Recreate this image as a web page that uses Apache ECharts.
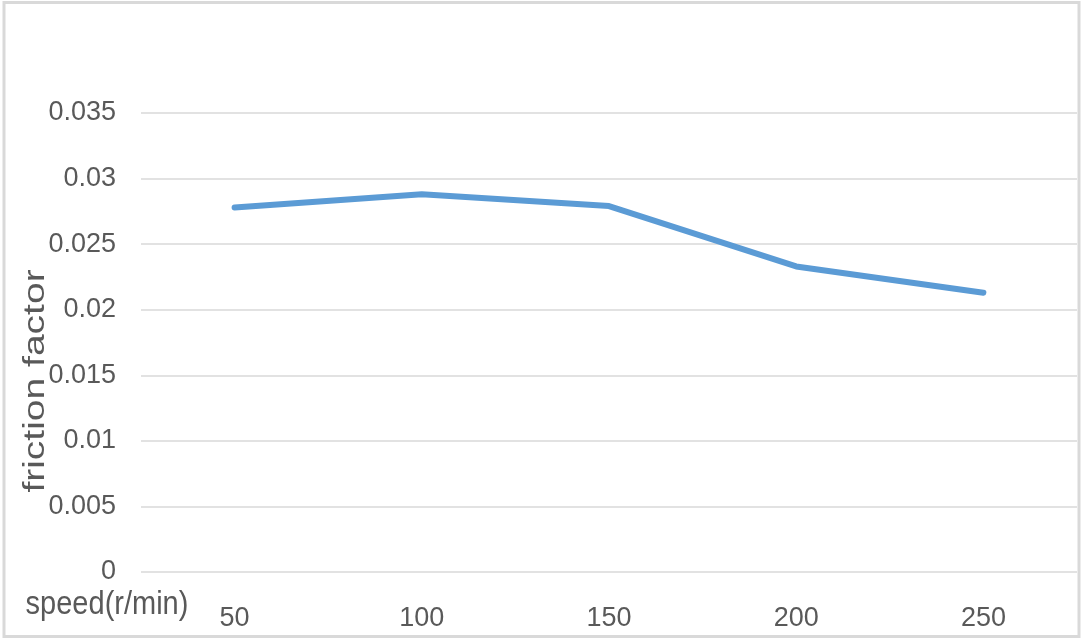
<!DOCTYPE html>
<html>
<head>
<meta charset="utf-8">
<script src="https://cdn.jsdelivr.net/npm/echarts@6/dist/echarts.min.js"></script>
<style>
html,body{margin:0;padding:0;background:#fff;}
#chart{width:1083px;height:640px;}
</style>
</head>
<body>
<div id="chart"></div>
<script>
const categories = ['50', '100', '150', '200', '250'];
const frictionFactor = [0.0278, 0.0288, 0.0279, 0.0233, 0.0213];
const yTicks = { min: 0, max: 0.035, interval: 0.005 };
const xAxisTitle = 'speed(r/min)';
const yAxisTitle = 'friction factor';

const chart = echarts.init(document.getElementById('chart'), null, { renderer: 'canvas' });
const labelFont = '"Liberation Sans", Arial, sans-serif';

chart.setOption({
  backgroundColor: '#ffffff',
  animation: false,
  grid: { left: 141, right: 6, top: 113, bottom: 68, containLabel: false },
  xAxis: {
    type: 'category',
    data: categories,
    boundaryGap: true,
    axisLine: { show: false },
    axisTick: { show: false },
    axisLabel: { color: '#595959', fontSize: 27, fontFamily: labelFont, margin: 33 }
  },
  yAxis: {
    type: 'value',
    min: yTicks.min,
    max: yTicks.max,
    interval: yTicks.interval,
    axisLine: { show: false },
    axisTick: { show: false },
    axisLabel: {
      color: '#595959', fontSize: 27, fontFamily: labelFont, margin: 25,
      formatter: function (v) { return String(Math.round(v * 1000) / 1000); }
    },
    splitLine: { show: true, lineStyle: { color: '#d9d9d9', width: 1.5 } }
  },
  series: [{
    type: 'line',
    data: frictionFactor,
    showSymbol: false,
    symbol: 'none',
    lineStyle: { color: '#5b9bd5', width: 6, cap: 'round', join: 'round' }
  }],
  graphic: [
    {
      type: 'rect',
      shape: { x: 4, y: 2.5, width: 1075, height: 634 },
      style: { fill: null, stroke: '#d9d9d9', lineWidth: 3 },
      silent: true
    },
    {
      type: 'text',
      x: 36, y: 381,
      rotation: Math.PI / 2,
      scaleX: 1.3,
      style: {
        text: yAxisTitle,
        fill: '#595959',
        font: '30px "Liberation Sans", sans-serif',
        align: 'center',
        verticalAlign: 'middle'
      },
      silent: true
    },
    {
      type: 'text',
      x: 107, y: 605,
      scaleY: 1.15,
      style: {
        text: xAxisTitle,
        fill: '#595959',
        font: '29px "Liberation Sans", sans-serif',
        align: 'center',
        verticalAlign: 'middle'
      },
      silent: true
    }
  ]
});
</script>
</body>
</html>
